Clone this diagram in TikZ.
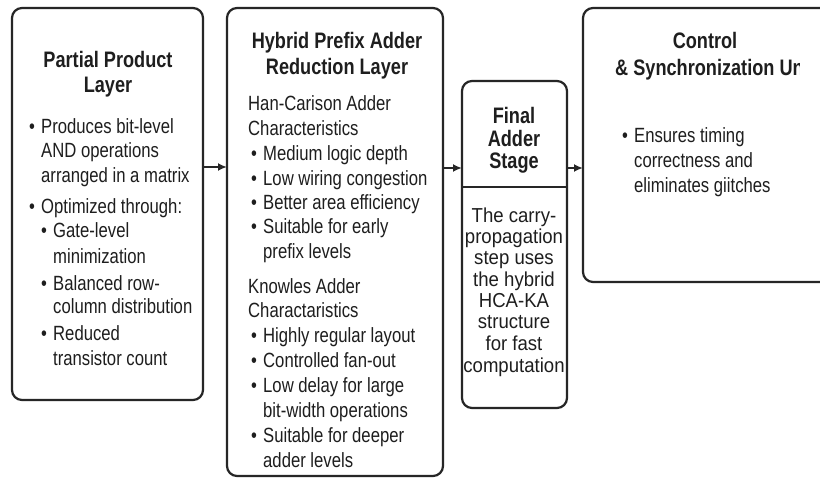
\documentclass[tikz,border=0pt]{standalone}
\usepackage{fontspec}
\setmainfont{Liberation Sans}
\newfontfamily\nsf{Liberation Sans}[FakeStretch=0.81]
\newfontfamily\msf{Liberation Sans}[FakeStretch=0.92]
\usetikzlibrary{arrows.meta}
\definecolor{ink}{HTML}{262626}
\definecolor{txt}{HTML}{1E1E1E}
\newcommand\bodyfont{\nsf\fontsize{20.6}{22}\selectfont}
\newcommand\titlefont{\nsf\bfseries\fontsize{22.4}{24}\selectfont}
\newcommand\midfont{\msf\fontsize{20.2}{22}\selectfont}
\newcommand\bl[1]{\makebox[12pt][l]{\textbullet}#1}
\tikzset{
  box/.style={draw=ink, line width=2.2pt, rounded corners=10pt, rectangle, inner sep=0pt, outer sep=0pt, fill=white},
  body/.style={font=\bodyfont, text=txt, anchor=base west, inner sep=0pt},
  ttl/.style={font=\titlefont, text=txt, anchor=base, inner sep=0pt},
  mid/.style={font=\midfont, text=txt, anchor=base, inner sep=0pt},
  arr/.style={draw=ink, line width=2pt, -{Latex[length=9pt,width=8pt]}}
}
\begin{document}
\begin{tikzpicture}[x=1pt,y=-1pt]
\clip (0,0) rectangle (820,479);
\fill[white] (0,0) rectangle (820,479);
% boxes
\node[box, minimum width=191pt, minimum height=392pt] (b1) at (107.5,204) {};
\node[box, minimum width=216pt, minimum height=468pt] (b2) at (335,242) {};
\node[box, minimum width=105pt, minimum height=327pt] (b3) at (514.5,244.5) {};
\node[box, minimum width=262pt, minimum height=274pt] (b4) at (714,145) {};
\draw[ink, line width=2.2pt] (b3.west |- 0,187) -- (b3.east |- 0,187);
% arrows
\draw[arr] (b1.east |- 0,167) -- (b2.west |- 0,167);
\draw[arr] (b2.east |- 0,168) -- (b3.west |- 0,168);
\draw[arr] (b3.east |- 0,168) -- (b4.west |- 0,168);
% box 1
\node[ttl] (t1a) at (108,67) {Partial Product};
\node[ttl] (t1b) at (108,92) {Layer};
\node[body] (p1) at (29,133) {\bl{Produces bit-level}};
\node[body] (p2) at (41,157) {AND operations};
\node[body] (p3) at (41,182) {arranged in a matrix};
\node[body] (p4) at (29,213) {\bl{Optimized through:}};
\node[body] (p5) at (41,237) {\bl{Gate-level}};
\node[body] (p6) at (53,263) {minimization};
\node[body] (p7) at (41,290) {\bl{Balanced row-}};
\node[body] (p8) at (53,313) {column distribution};
\node[body] (p9) at (41,340) {\bl{Reduced}};
\node[body] (p10) at (53,365) {transistor count};
% box 2
\node[ttl] (t2a) at (337,48) {Hybrid Prefix Adder};
\node[ttl] (t2b) at (337,74) {Reduction Layer};
\node[body] (h1) at (248,110) {Han-Carison Adder};
\node[body] (h2) at (248,135) {Characteristics};
\node[body] (h3) at (251,160) {\bl{Medium logic depth}};
\node[body] (h4) at (251,185) {\bl{Low wiring congestion}};
\node[body] (h5) at (251,209) {\bl{Better area efficiency}};
\node[body] (h6) at (251,233) {\bl{Suitable for early}};
\node[body] (h7) at (263,258) {prefix levels};
\node[body] (k1) at (248,293) {Knowles Adder};
\node[body] (k2) at (248,317) {Charactaristics};
\node[body] (k3) at (251,342) {\bl{Highly regular layout}};
\node[body] (k4) at (251,367) {\bl{Controlled fan-out}};
\node[body] (k5) at (251,392) {\bl{Low delay for large}};
\node[body] (k6) at (263,417) {bit-width operations};
\node[body] (k7) at (251,442) {\bl{Suitable for deeper}};
\node[body] (k8) at (263,467) {adder levels};
% box 3
\node[ttl] (t3a) at (514,123) {Final};
\node[ttl] (t3b) at (514,146) {Adder};
\node[ttl] (t3c) at (514,168) {Stage};
\node[mid] (f1) at (514,222) {The carry-};
\node[mid] (f2) at (514,243) {propagation};
\node[mid] (f3) at (514,264) {step uses};
\node[mid] (f4) at (514,286) {the hybrid};
\node[mid] (f5) at (514,307) {HCA-KA};
\node[mid] (f6) at (514,328) {structure};
\node[mid] (f7) at (514,350) {for fast};
\node[mid] (f8) at (514,372) {computation};
% box 4
\node[ttl] (t4a) at (705,48) {Control};
\begin{scope}
\clip (600,50) rectangle (799,85);
\node[ttl, anchor=base west] (t4b) at (615,75) {\& Synchronization Unit};
\end{scope}
\node[body] (c1) at (622,142) {\bl{Ensures timing}};
\node[body] (c2) at (634,167) {correctness and};
\node[body] (c3) at (634,192) {eliminates giitches};
\end{tikzpicture}
\end{document}
